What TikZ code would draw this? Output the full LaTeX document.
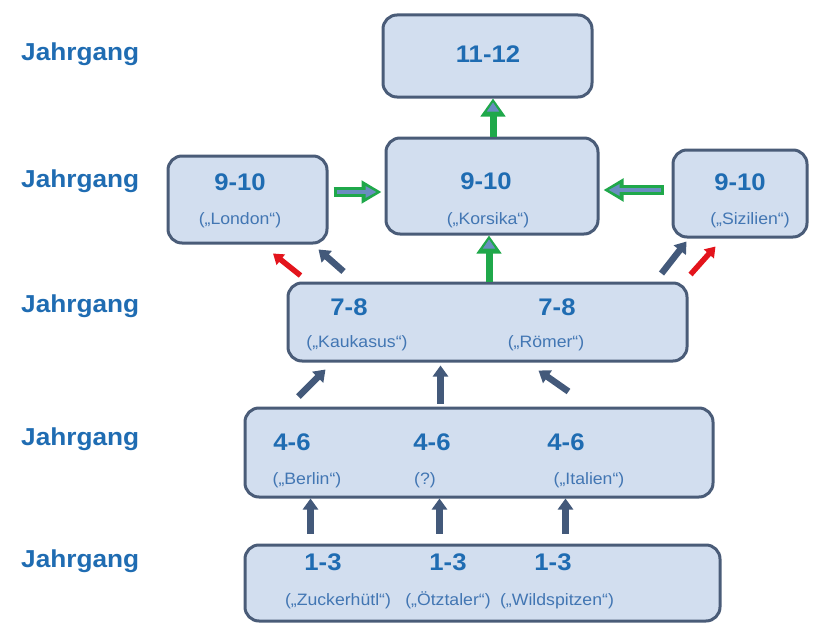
\documentclass[tikz,border=0pt]{standalone}
\usepackage{fontspec}
\setmainfont{Liberation Sans}[FakeStretch=1.07]
\usetikzlibrary{arrows.meta,calc}
\definecolor{boxfill}{HTML}{D2DEEF}
\definecolor{boxline}{HTML}{4A5C78}
\definecolor{numblue}{HTML}{1F6CB2}
\definecolor{subblue}{HTML}{4276B3}
\definecolor{darr}{HTML}{43597A}
\definecolor{redarr}{HTML}{E3141C}
\definecolor{garr}{HTML}{1FA84A}
\definecolor{ginner}{HTML}{6A8DC0}
\begin{document}
\begin{tikzpicture}[x=1pt,y=-1pt,
  box/.style={draw=boxline, line width=3pt, fill=boxfill, rounded corners=14pt, inner sep=0pt},
  num/.style={font=\fontsize{24}{24}\selectfont\bfseries, text=numblue, anchor=base, inner sep=0pt},
  sub/.style={font=\fontsize{16.5}{16.5}\selectfont, text=subblue, anchor=base, inner sep=0pt},
  jahr/.style={font=\fontsize{24.5}{24.5}\selectfont\bfseries, text=numblue, anchor=base west, inner sep=0pt},
  darrow/.style={draw=darr, line width=6.5pt, -{Triangle[length=11pt,width=15pt]}},
  rarrow/.style={draw=redarr, line width=5.5pt, -{Triangle[length=10pt,width=13pt]}},
  gvouter/.style={draw=garr, line width=7pt, -{Triangle[length=18pt,width=24pt]}},
  gvinner/.style={draw=ginner, line width=1pt, -{Triangle[length=9pt,width=12pt]}},
  ghouter/.style={draw=garr, line width=10pt, -{Triangle[length=20pt,width=22pt]}},
  ghinner/.style={draw=ginner, line width=4pt, shorten <=3pt, shorten >=5pt, -{Triangle[length=11pt,width=11pt]}}
]
\useasboundingbox (0,0) rectangle (814,626);

% boxes
\node[box, minimum width=209pt, minimum height=82pt] (top) at (487.5,56) {};
\node[box, minimum width=212pt, minimum height=96pt] (kor) at (492,186) {};
\node[box, minimum width=159pt, minimum height=87pt] (lon) at (247.5,199.5) {};
\node[box, minimum width=134pt, minimum height=87pt] (siz) at (740,193.5) {};
\node[box, minimum width=399pt, minimum height=78pt] (k78) at (487.5,322) {};
\node[box, minimum width=468pt, minimum height=89pt] (k46) at (479,452.5) {};
\node[box, minimum width=475pt, minimum height=76pt] (k13) at (482.5,583) {};

% left labels
\node[jahr] (j1) at (21,60) {Jahrgang};
\node[jahr] (j2) at (21,187) {Jahrgang};
\node[jahr] (j3) at (21,312) {Jahrgang};
\node[jahr] (j4) at (21,445) {Jahrgang};
\node[jahr] (j5) at (21,567) {Jahrgang};

% texts
\node[num] (t1112) at (488,63) {11-12};
\node[num] (tkor) at (486,189) {9-10};
\node[sub] (skor) at (488,224) {(„Korsika“)};
\node[num] (tlon) at (240,190) {9-10};
\node[sub] (slon) at (240,224) {(„London“)};
\node[num] (tsiz) at (740,190) {9-10};
\node[sub] (ssiz) at (750,224) {(„Sizilien“)};
\node[num] (t78a) at (349,315) {7-8};
\node[num] (t78b) at (557,315) {7-8};
\node[sub] (skau) at (357,347) {(„Kaukasus“)};
\node[sub] (srom) at (546,347) {(„Römer“)};
\node[num] (t46a) at (292,450) {4-6};
\node[num] (t46b) at (432,450) {4-6};
\node[num] (t46c) at (566,450) {4-6};
\node[sub] (sber) at (307,484) {(„Berlin“)};
\node[sub] (sq) at (425,484) {(?)};
\node[sub] (sita) at (589,484) {(„Italien“)};
\node[num] (t13a) at (323,570) {1-3};
\node[num] (t13b) at (448,570) {1-3};
\node[num] (t13c) at (553,570) {1-3};
\node[sub] (szuc) at (338,605) {(„Zuckerhütl“)};
\node[sub] (soetz) at (448,605) {(„Ötztaler“)};
\node[sub] (swild) at (557,605) {(„Wildspitzen“)};

% green arrows
\draw[gvouter] ($(kor.north)+(1,0)$) -- ($(top.south)+(5.5,0)$);
\draw[gvinner, shorten <=27pt, shorten >=4pt] ($(kor.north)+(1,0)$) -- ($(top.south)+(5.5,0)$);
\draw[gvouter] ($(k78.north)+(1.5,0)$) -- ($(kor.south)+(-3,0)$);
\draw[gvinner, shorten <=36pt, shorten >=4pt] ($(k78.north)+(1.5,0)$) -- ($(kor.south)+(-3,0)$);
\draw[ghouter] ($(lon.east)+(5,-7.5)$) -- ($(kor.west)+(-3,6)$);
\draw[ghinner] ($(lon.east)+(5,-7.5)$) -- ($(kor.west)+(-3,6)$);
\draw[ghouter] ($(siz.west)+(-8,-3.5)$) -- ($(kor.east)+(4,4)$);
\draw[ghinner] ($(siz.west)+(-8,-3.5)$) -- ($(kor.east)+(4,4)$);

% 7-8 to 9-10 side boxes
\draw[darrow] ($(k78.north west)+(57,-10)$) -- ($(lon.south east)+(-10,5)$);
\draw[rarrow] ($(k78.north west)+(14,-6)$) -- ($(lon.south)+(25.5,9)$);
\draw[darrow] ($(k78.north east)+(-27,-8)$) -- ($(siz.south west)+(15,3)$);
\draw[rarrow] ($(k78.north east)+(2,-7)$) -- ($(siz.south west)+(44,8)$);

% 4-6 to 7-8
\draw[darrow] ($(k46.north west)+(55,-10)$) -- ($(k78.south west)+(39,7)$);
\draw[darrow] ($(k46.north west)+(197,-3)$) -- ($(k78.south west)+(154,3)$);
\draw[darrow] ($(k46.north west)+(325,-15)$) -- ($(k78.south west)+(252,8)$);

% 1-3 to 4-6
\draw[darrow] ($(k13.north west)+(67,-10)$) -- ($(k46.south west)+(67,0)$);
\draw[darrow] ($(k13.north west)+(196,-10)$) -- ($(k46.south west)+(196,0)$);
\draw[darrow] ($(k13.north west)+(322,-10)$) -- ($(k46.south west)+(322,0)$);
\end{tikzpicture}
\end{document}
